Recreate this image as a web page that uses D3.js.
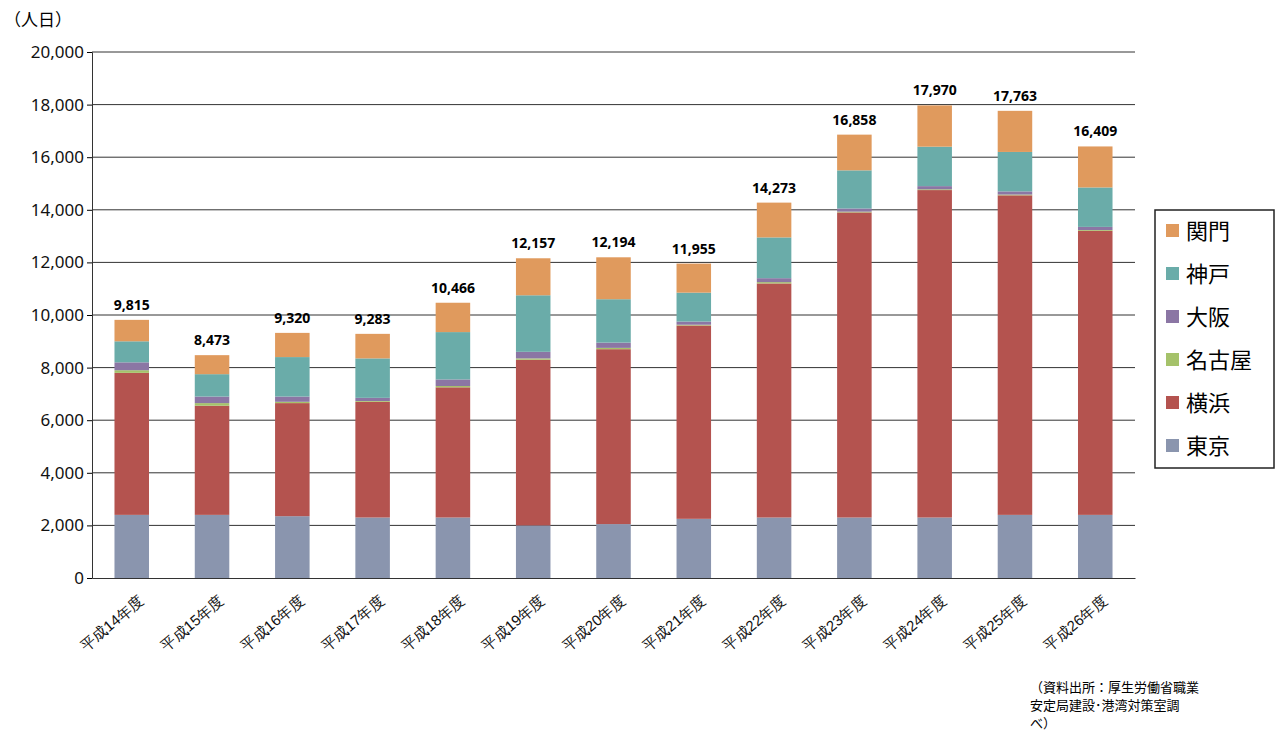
<!DOCTYPE html>
<html><head><meta charset="utf-8">
<script src="https://cdn.jsdelivr.net/npm/d3@7"></script>
<style>body{margin:0;background:#fff;font-family:"Noto Sans CJK JP","Noto Sans",sans-serif}</style>
</head><body><svg width="1278" height="735"></svg>
<script>
const years = ["平成14年度","平成15年度","平成16年度","平成17年度","平成18年度","平成19年度","平成20年度","平成21年度","平成22年度","平成23年度","平成24年度","平成25年度","平成26年度"];
const ports = ["東京","横浜","名古屋","大阪","神戸","関門"];
const colors = ["#8a95ae","#b4534f","#a5c26a","#8b76a4","#6aaca9","#e09a5d"];
const tokyo    = [2400,2400,2350,2300,2300,2000,2050,2250,2300,2300,2300,2400,2400];
const yokohama = [5400,4150,4300,4400,4950,6300,6650,7350,8900,11600,12450,12150,10800];
const nagoya   = [100,100,50,30,50,50,50,30,50,30,30,30,30];
const osaka    = [300,250,200,120,250,250,200,120,150,120,120,120,120];
const kobe     = [800,850,1500,1500,1800,2150,1650,1100,1550,1450,1500,1500,1500];
const kanmon   = [815,723,920,933,1116,1407,1594,1105,1323,1358,1570,1563,1559];
const totals   = [9815,8473,9320,9283,10466,12157,12194,11955,14273,16858,17970,17763,16409];
const yTicks = d3.range(0,20001,2000);

const series = [tokyo,yokohama,nagoya,osaka,kobe,kanmon];
const table = years.map((y,i)=>{const o={year:y};ports.forEach((p,k)=>o[p]=series[k][i]);return o;});
const stack = d3.stack().keys(ports)(table);

const svg = d3.select("svg");
const x = d3.scaleBand().domain(years).range([92,1135]).paddingInner(0.57).paddingOuter(0.28);
const y = d3.scaleLinear().domain([0,20000]).range([578,52]);

svg.append("g").selectAll("line").data(yTicks.slice(1)).join("line")
  .attr("x1",92).attr("x2",1135).attr("y1",d=>y(d)).attr("y2",d=>y(d))
  .attr("stroke","#333").attr("stroke-width",1);

const ya = svg.append("g").attr("transform","translate(92,0)")
  .call(d3.axisLeft(y).tickValues(yTicks).tickFormat(d3.format(",")).tickSize(5));
ya.selectAll("text").attr("font-size",17).attr("fill","#111").attr("font-family","Noto Sans, sans-serif");
ya.select(".domain").attr("stroke","#333");

stack.forEach((s,k)=>{
  svg.append("g").attr("fill",colors[k]).selectAll("rect").data(s).join("rect")
    .attr("x",d=>x(d.data.year)).attr("width",x.bandwidth())
    .attr("y",d=>y(d[1])).attr("height",d=>y(d[0])-y(d[1]));
});

const xa = svg.append("g").attr("transform","translate(0,578)")
  .call(d3.axisBottom(x).tickSize(0));
xa.select(".domain").attr("stroke","#333");
xa.selectAll("text").attr("font-size",15).attr("fill","#111")
  .attr("text-anchor","end").attr("transform","translate(4,14) rotate(-40)");

svg.append("g").selectAll("text").data(years).join("text")
  .attr("x",d=>x(d)+x.bandwidth()/2).attr("y",(d,i)=>y(totals[i])-10)
  .attr("text-anchor","middle").attr("font-size",14).attr("font-weight","bold")
  .attr("font-family","Noto Sans, sans-serif").text((d,i)=>d3.format(",")(totals[i]));

svg.append("text").attr("x",4).attr("y",26).attr("font-size",17).text("（人日）");

const lg = svg.append("g");
lg.append("rect").attr("x",1155).attr("y",210).attr("width",119).attr("height",258)
  .attr("fill","#fff").attr("stroke","#222").attr("stroke-width",1.5);
ports.slice().reverse().forEach((p,i)=>{
  const c = colors[ports.length-1-i];
  lg.append("rect").attr("x",1166).attr("y",224+i*43).attr("width",13).attr("height",13).attr("fill",c);
  lg.append("text").attr("x",1186).attr("y",239+i*43).attr("font-size",22).text(p);
});

const src = ["（資料出所：厚生労働省職業","安定局建設･港湾対策室調","べ）"];
svg.append("g").selectAll("text").data(src).join("text")
  .attr("x",1030).attr("y",(d,i)=>692+i*18).attr("font-size",13).text(d=>d);
</script></body></html>
